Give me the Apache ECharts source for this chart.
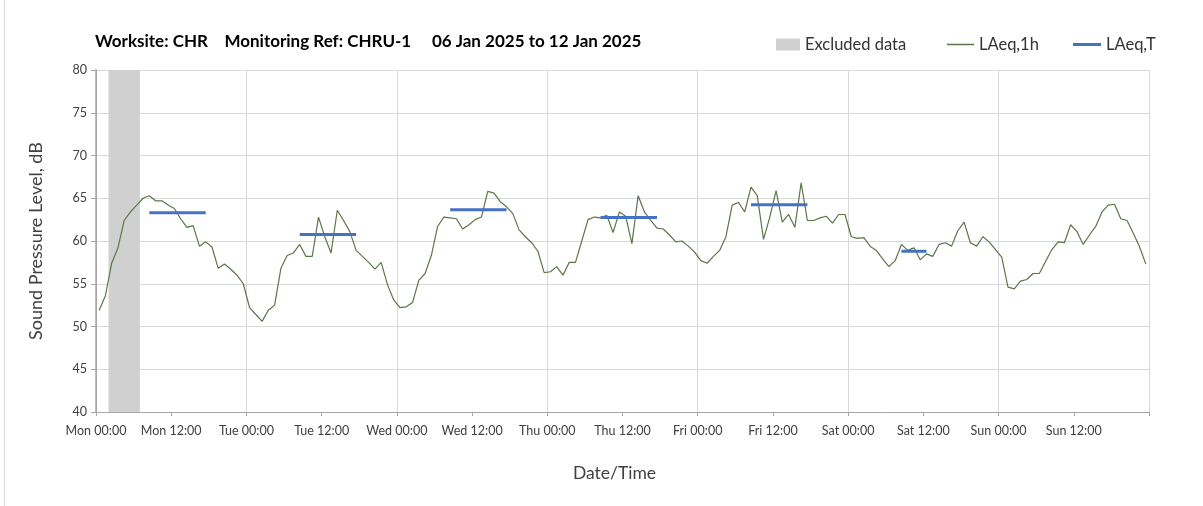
<!DOCTYPE html>
<html>
<head>
<meta charset="utf-8">
<title>CHRU-1</title>
<script src="https://cdn.jsdelivr.net/npm/echarts@6/dist/echarts.min.js"></script>
<style>
  html, body { margin: 0; padding: 0; background: #fff; }
  #chart { width: 1203px; height: 506px; }
</style>
</head>
<body>
<div id="chart"></div>
<script>
// day names for the x labels
var dayNames = ['Mon', 'Tue', 'Wed', 'Thu', 'Fri', 'Sat', 'Sun'];

// LAeq,1h - one value per hour, Mon 00:00 .. Sun 23:00
var laeq1h = [
  51.9, 53.6, 57.4, 59.2, 62.4, 63.4, 64.2, 65.0, 65.3, 64.7, 64.7, 64.2,
  63.8, 62.6, 61.6, 61.8, 59.4, 59.9, 59.3, 56.8, 57.3, 56.7, 56.0, 55.0,
  52.2, 51.4, 50.6, 51.9, 52.5, 56.8, 58.3, 58.6, 59.6, 58.2, 58.2, 62.8,
  60.5, 58.6, 63.6, 62.4, 61.1, 58.9, 58.2, 57.5, 56.7, 57.5, 54.9, 53.1,
  52.2, 52.3, 52.8, 55.4, 56.2, 58.3, 61.7, 62.8, 62.7, 62.6, 61.4, 61.9,
  62.5, 62.8, 65.8, 65.6, 64.6, 64.0, 63.2, 61.3, 60.5, 59.8, 58.8, 56.3,
  56.4, 57.0, 56.0, 57.5, 57.5, 60.0, 62.5, 62.8, 62.7, 63.0, 61.0, 63.4,
  62.9, 59.7, 65.3, 63.4, 62.4, 61.5, 61.4, 60.7, 59.9, 60.0, 59.4, 58.7,
  57.7, 57.4, 58.2, 58.9, 60.5, 64.2, 64.5, 63.4, 66.3, 65.3, 60.2, 62.8,
  65.9, 62.2, 63.1, 61.6, 66.8, 62.4, 62.4, 62.7, 62.9, 62.1, 63.1, 63.1,
  60.5, 60.3, 60.4, 59.4, 58.9, 57.9, 57.0, 57.7, 59.6, 58.9, 59.2, 57.8,
  58.5, 58.2, 59.6, 59.8, 59.4, 61.2, 62.2, 59.8, 59.4, 60.5, 59.9, 59.0,
  58.1, 54.6, 54.4, 55.3, 55.5, 56.2, 56.2, 57.6, 59.0, 59.9, 59.8, 61.9,
  61.1, 59.6, 60.7, 61.7, 63.4, 64.2, 64.3, 62.6, 62.4, 60.9, 59.3, 57.3
];

// excluded period (hours from Mon 00:00)
var excludedFrom = 2;
var excludedTo = 7;

// LAeq,T periods (hours from Mon 00:00) and levels
var periodStart = [8.5, 32.5, 56.5, 80.5, 104.5, 128.5];
var periodEnd = [17.5, 41.5, 65.5, 89.5, 113.5, 132.5];
var laeqT = [63.3, 60.75, 63.65, 62.75, 64.25, 58.8];

var font = 'Lato, "Open Sans", sans-serif';

// points sit at the middle of each hour
var lineData = laeq1h.map(function (v, i) {
  return [i + 0.5, v];
});

// one short segment per period, broken with '-'
var periodData = [];
for (var i = 0; i < laeqT.length; i++) {
  periodData.push([periodStart[i], laeqT[i]]);
  periodData.push([periodEnd[i], laeqT[i]]);
  periodData.push([periodEnd[i], '-']);
}

var myChart = echarts.init(document.getElementById('chart'));

var option = {
  backgroundColor: '#fff',
  animation: false,
  title: {
    text: 'Worksite: CHR    Monitoring Ref: CHRU-1     06 Jan 2025 to 12 Jan 2025',
    left: 90,
    top: 28,
    textStyle: { fontFamily: font, fontSize: 17, fontWeight: 'bold', color: '#000' }
  },
  legend: [
    {
      data: ['Excluded data'],
      left: 771, top: 31,
      icon: 'rect', itemWidth: 24, itemHeight: 12, itemGap: 4,
      textStyle: { fontFamily: font, fontSize: 16.5, color: '#333' }
    },
    {
      data: ['LAeq,1h'],
      left: 942, top: 31,
      icon: 'rect', itemWidth: 27, itemHeight: 1.5,
      textStyle: { fontFamily: font, fontSize: 16.5, color: '#333' }
    },
    {
      data: ['LAeq,T'],
      left: 1068, top: 31,
      icon: 'rect', itemWidth: 28, itemHeight: 3,
      textStyle: { fontFamily: font, fontSize: 16.5, color: '#333' }
    }
  ],
  grid: { left: 96, right: 54, top: 70, bottom: 94 },
  xAxis: [
    {
      type: 'value',
      min: 0, max: 168, interval: 12,
      name: 'Date/Time',
      nameLocation: 'middle',
      nameGap: 52,
      nameTextStyle: { fontFamily: font, fontSize: 17.5, color: '#404040', padding: [0, 16, 0, 0] },
      axisLine: { lineStyle: { color: '#a6a6a6' } },
      axisTick: { length: 4, lineStyle: { color: '#a6a6a6' } },
      splitLine: { show: false },
      axisLabel: {
        fontFamily: font, fontSize: 12.5, color: '#404040', margin: 12,
        formatter: function (v) {
          if (v >= 168) return '';
          var d = dayNames[Math.floor(v / 24)];
          return d + (v % 24 === 0 ? ' 00:00' : ' 12:00');
        }
      }
    },
    {
      // day gridlines only
      type: 'value',
      min: 0, max: 168, interval: 24,
      position: 'bottom',
      axisLine: { show: false },
      axisTick: { show: false },
      axisLabel: { show: false },
      splitLine: { lineStyle: { color: '#d9d9d9', width: 1 } }
    }
  ],
  yAxis: [
    {
      type: 'value',
      min: 40, max: 80, interval: 5,
      name: 'Sound Pressure Level, dB',
      nameLocation: 'middle',
      nameGap: 51,
      nameTextStyle: { fontFamily: font, fontSize: 18, color: '#404040' },
      axisLine: { show: true, lineStyle: { color: '#a6a6a6' } },
      axisTick: { show: true, length: 5, lineStyle: { color: '#a6a6a6' } },
      axisLabel: { fontFamily: font, fontSize: 12.5, color: '#404040', margin: 9 },
      splitLine: { lineStyle: { color: '#d9d9d9', width: 1 } }
    },
    {
      // right border of the plot
      type: 'value',
      min: 40, max: 80, interval: 5,
      position: 'right',
      axisLine: { show: true, lineStyle: { color: '#a6a6a6', width: 1.5 } },
      axisTick: { show: false },
      axisLabel: { show: false },
      splitLine: { show: false }
    }
  ],
  series: [
    {
      name: 'Excluded data',
      type: 'line',
      data: [],
      z: 1,
      itemStyle: { color: '#d0d0d0' },
      markArea: {
        silent: true,
        itemStyle: { color: '#d0d0d0', opacity: 1 },
        data: [[{ xAxis: excludedFrom }, { xAxis: excludedTo }]]
      }
    },
    {
      name: 'LAeq,1h',
      type: 'line',
      data: lineData,
      z: 3,
      symbol: 'none',
      itemStyle: { color: '#5b7647' },
      lineStyle: { color: '#5b7647', width: 1.2 }
    },
    {
      name: 'LAeq,T',
      type: 'line',
      data: periodData,
      z: 4,
      symbol: 'none',
      connectNulls: false,
      itemStyle: { color: '#4472c4' },
      lineStyle: { color: '#4472c4', width: 3 }
    }
  ],
  graphic: [
    {
      // chart frame, left edge
      type: 'line',
      shape: { x1: 4.5, y1: 0, x2: 4.5, y2: 506 },
      style: { stroke: '#d9d9d9', lineWidth: 1 }
    }
  ]
};

myChart.setOption(option, true);
</script>
</body>
</html>
